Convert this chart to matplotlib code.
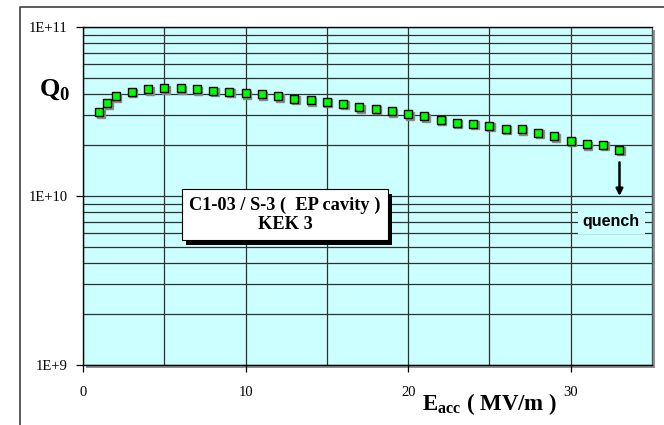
import matplotlib
matplotlib.use("Agg")
import matplotlib.pyplot as plt
from matplotlib import patheffects, transforms
from matplotlib.lines import Line2D
from matplotlib.ticker import LogLocator, MultipleLocator

plt.rcParams["font.family"] = ["Liberation Serif", "DejaVu Serif"]
plt.rcParams["mathtext.fontset"] = "custom"
plt.rcParams["mathtext.rm"] = "Liberation Serif"
plt.rcParams["mathtext.bf"] = "Liberation Serif:bold"

# Eacc (MV/m) and Q0
e_acc = [1, 1.5, 2, 3, 4, 5, 6, 7, 8, 9, 10, 11, 12, 13, 14, 15, 16, 17,
         18, 19, 20, 21, 22, 23, 24, 25, 26, 27, 28, 29, 30, 31, 32, 33]
q0 = [3.12e10, 3.55e10, 3.88e10, 4.13e10, 4.29e10, 4.35e10, 4.35e10, 4.29e10,
      4.19e10, 4.13e10, 4.06e10, 4.01e10, 3.88e10, 3.76e10, 3.69e10, 3.60e10,
      3.51e10, 3.36e10, 3.28e10, 3.17e10, 3.05e10, 2.96e10, 2.82e10, 2.71e10,
      2.68e10, 2.60e10, 2.50e10, 2.48e10, 2.36e10, 2.25e10, 2.12e10, 2.02e10,
      2.01e10, 1.88e10]

x_ticks = [0, 10, 20, 30]
y_ticks = [1e9, 1e10, 1e11]
y_tick_labels = ["1E+9", "1E+10", "1E+11"]

quench_x = 33
quench_from = 1.58e10
quench_to = 1e10

fig = plt.figure(figsize=(6.64, 4.25), dpi=100)
ax = fig.add_axes([83 / 664, 1 - 365 / 425, (652 - 83) / 664, (365 - 27) / 425])
ax.set_facecolor("#CCFFFF")
ax.patch.set_path_effects([
    patheffects.SimplePatchShadow(offset=(2, -2), shadow_rgbFace="#909090", alpha=1),
    patheffects.Normal(),
])

ax.set_yscale("log")
ax.set_xlim(0, 35)
ax.set_ylim(1e9, 1e11)

# grid: vertical every 5, horizontal on every decade subdivision
ax.xaxis.set_minor_locator(MultipleLocator(5))
ax.yaxis.set_minor_locator(LogLocator(base=10, subs=range(2, 10)))
ax.grid(which="both", axis="both", color="#303030", linewidth=0.9)
ax.set_axisbelow(True)

ax.set_xticks(x_ticks)
ax.set_xticklabels([str(v) for v in x_ticks])
ax.set_yticks(y_ticks)
ax.set_yticklabels(y_tick_labels)
ax.tick_params(axis="x", which="major", direction="out", length=5, width=0.9,
               pad=10, labelsize=10.5)
ax.tick_params(axis="y", which="major", direction="out", length=5, width=0.9,
               pad=6, labelsize=10.5)
ax.tick_params(which="minor", length=0)

for side in ["left", "bottom", "top"]:
    ax.spines[side].set_color("black")
    ax.spines[side].set_linewidth(1.0)
ax.spines["right"].set_color("#505050")

# markers with a small grey drop shadow
shadow = transforms.offset_copy(ax.transData, fig=fig, x=1.5, y=-1.5, units="dots")
ax.plot(e_acc, q0, linestyle="none", marker="s", markersize=6,
        markerfacecolor="#8a8a8a", markeredgecolor="#8a8a8a", transform=shadow,
        zorder=3)
ax.plot(e_acc, q0, linestyle="none", marker="s", markersize=6,
        markerfacecolor="#00FF00", markeredgecolor="black", markeredgewidth=1.0,
        zorder=4)

ax.annotate("", xy=(quench_x, quench_to), xytext=(quench_x, quench_from),
            arrowprops=dict(arrowstyle="-|>", color="black", lw=1.8,
                            mutation_scale=10, shrinkA=0, shrinkB=0),
            zorder=5)

ax.text(32.5, 7.07e9, "quench", family=["Liberation Sans", "DejaVu Sans"],
        fontweight="bold", fontsize=11.5, ha="center", va="center", zorder=5,
        bbox=dict(boxstyle="square,pad=0.3", facecolor="#CCFFFF", edgecolor="none"))

box = ax.text(12.42, 7.73e9, "C1-03 / S-3 (  EP cavity )\nKEK 3", fontweight="bold",
              fontsize=13.2, ha="center", va="center", linespacing=1.15, zorder=6,
              bbox=dict(boxstyle="square,pad=0.4", facecolor="white",
                        edgecolor="black", linewidth=0.8))
box.get_bbox_patch().set_path_effects([
    patheffects.SimplePatchShadow(offset=(3, -3), shadow_rgbFace="black", alpha=1),
    patheffects.Normal(),
])

fig.text(55 / 664, 1 - 90 / 425, r"$\mathbf{Q}_\mathbf{0}$", fontsize=19,
         ha="center", va="center")
fig.text(490 / 664, 1 - 404 / 425, r"$\mathbf{E}_\mathbf{acc}$ ( MV/m )",
         fontsize=16.5, fontweight="bold", ha="center", va="center")

# outer chart frame (left and top edges are visible)
fig.add_artist(Line2D([20 / 664, 20 / 664, 1.0], [0.0, 1 - 7 / 425, 1 - 7 / 425],
                      transform=fig.transFigure, color="#404040", linewidth=1.2))

fig.savefig("out.png", dpi=100)
